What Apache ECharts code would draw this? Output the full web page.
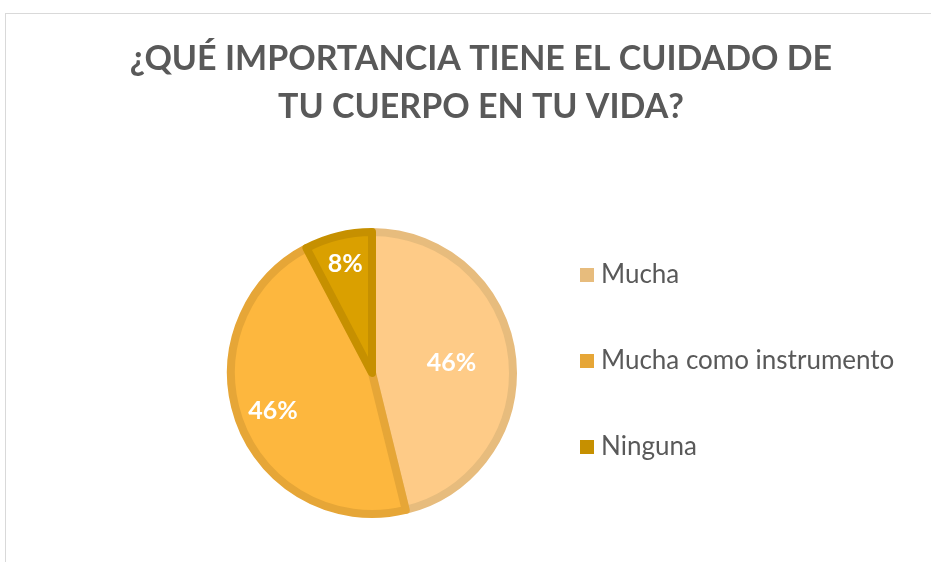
<!DOCTYPE html>
<html>
<head>
<meta charset="utf-8">
<script src="https://cdn.jsdelivr.net/npm/echarts@6/dist/echarts.min.js"></script>
<style>
	html, body { margin: 0; padding: 0; background: #fff; }
	#frame { position: absolute; left: 5px; top: 13px; width: 926px; height: 549px;
		border-left: 1px solid #d9d9d9; border-top: 1px solid #d9d9d9; }
	#chart { position: absolute; left: 0; top: 0; width: 931px; height: 562px; }
</style>
</head>
<body>
<div id="frame"></div>
<div id="chart"></div>
<script>
var categories = ["Mucha", "Mucha como instrumento", "Ninguna"];
var values = [6, 6, 1];

var fillColors = ["#fecb87", "#fdb73e", "#daa000"];
var borderColors = ["#e7bc7d", "#e6a637", "#c69000"];
// distance of each label from the centre (px)
var labelRadius = [80, 106, 112];

var cx = 372, cy = 373;

function buildData(){
	var list = [];
	for (var i = 0; i < categories.length; i++) {
		list.push({
			name: categories[i],
			value: values[i],
			itemStyle: { color: fillColors[i], borderColor: borderColors[i] }
		});
	}
	return list;
}

var myChart = echarts.init(document.getElementById("chart"));
myChart.setOption({
	animation: false,
	title: {
		text: "¿QUÉ IMPORTANCIA TIENE EL CUIDADO DE\nTU CUERPO EN TU VIDA?",
		left: 476,
		textAlign: "center",
		top: 30,
		textStyle: {
			color: "#595959",
			fontFamily: "Lato",
			fontWeight: "bold",
			fontSize: 34,
			lineHeight: 48
		}
	},
	legend: {
		orient: "vertical",
		left: 575,
		top: 257,
		itemWidth: 14,
		itemHeight: 14,
		itemGap: 60,
		icon: "rect",
		data: categories.map(function(n, i){
			return { name: n, itemStyle: { color: borderColors[i], borderWidth: 0 } };
		}),
		textStyle: { color: "#595959", fontFamily: "Lato", fontSize: 26, padding: [0, 0, 0, 2] }
	},
	series: [{
		type: "pie",
		center: [cx, cy],
		radius: 141,
		startAngle: 90,
		clockwise: true,
		itemStyle: { borderWidth: 8 },
		emphasis: { disabled: true },
		label: {
			show: true,
			position: "inside",
			color: "#fff",
			fontFamily: "Lato",
			fontWeight: "bold",
			fontSize: 25,
			formatter: function(p){ return Math.round(p.percent) + "%"; }
		},
		labelLine: { show: false },
		labelLayout: function(p){
			var r = p.labelRect;
			var lx = r.x + r.width / 2, ly = r.y + r.height / 2;
			var dx = lx - cx, dy = ly - cy;
			var d = Math.sqrt(dx * dx + dy * dy) || 1;
			var k = labelRadius[p.dataIndex] / d;
			return { dx: dx * k - dx, dy: dy * k - dy };
		},
		data: buildData()
	}]
});
</script>
</body>
</html>
